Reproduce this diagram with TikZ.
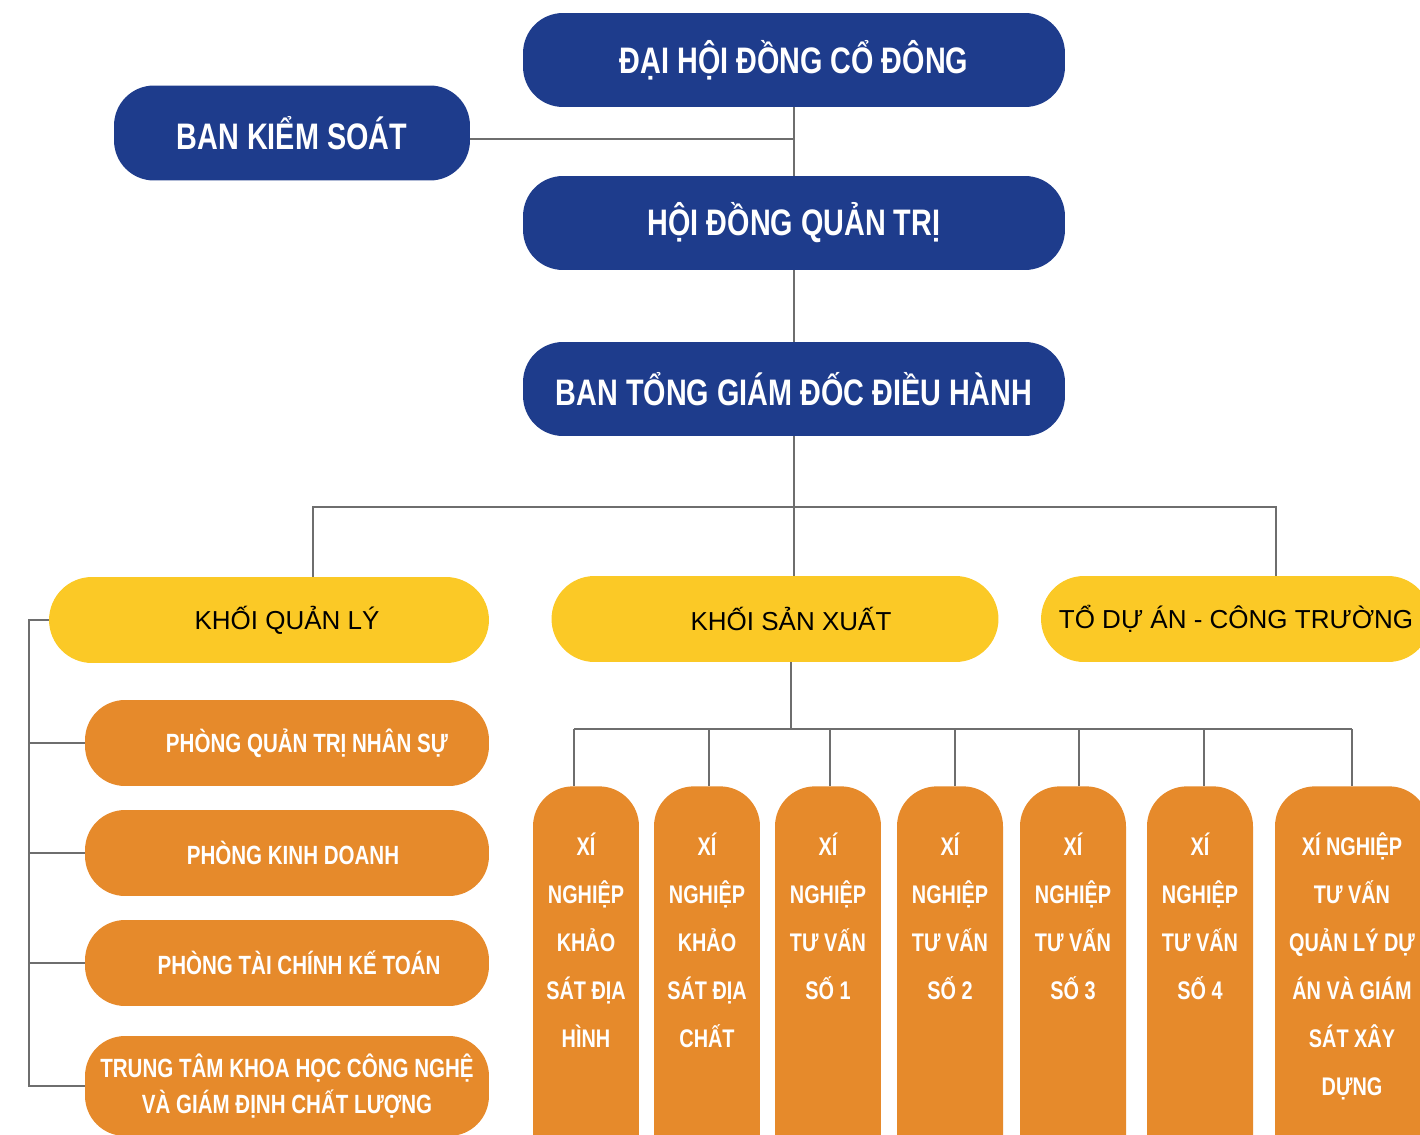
\documentclass[tikz,border=0pt]{standalone}
\usepackage{fontspec}
\setmainfont{Liberation Sans}
\newfontfamily\condfont{Liberation Sans}[FakeStretch=0.78]
\usetikzlibrary{positioning,backgrounds}
\definecolor{boardblue}{HTML}{1E3C8C}
\definecolor{unitorange}{HTML}{E68A2B}
\definecolor{blockyellow}{HTML}{FBC926}
\definecolor{linegray}{HTML}{6E6E6E}
\tikzstyle{board}=[fill=boardblue,text=white,rounded corners=0.8cm,minimum width=10.84cm,minimum height=1.88cm,font=\condfont\bfseries\fontsize{21}{25}\selectfont]
\tikzstyle{block}=[fill=blockyellow,text=black,rounded corners=0.86cm,minimum height=1.72cm,font=\fontsize{14.8}{18}\selectfont]
\tikzstyle{dept}=[fill=unitorange,text=white,rounded corners=0.8cm,minimum width=8.08cm,minimum height=1.72cm,font=\condfont\bfseries\fontsize{15}{21}\selectfont]
\tikzstyle{unit}=[fill=unitorange,text=white,rounded corners=0.8cm,anchor=north,inner sep=0pt,font=\condfont\bfseries\fontsize{14.5}{27.3}\selectfont]
\tikzstyle{link}=[draw=linegray,line width=1.1pt]
\newcommand{\unitlines}[2]{\parbox[t][8cm][t]{#1}{\centering\rule{0pt}{39.3pt}#2}}

\begin{document}
\begin{tikzpicture}[x=0.02cm,y=-0.02cm]
\useasboundingbox (0,0) rectangle (1420,1135);
\clip (0,0) rectangle (1420,1135);

\node[board] (dhdcd) at (794,60) {ĐẠI HỘI ĐỒNG CỔ ĐÔNG};
\node[board,minimum width=7.12cm,minimum height=1.9cm] (bks) at (292,133) {BAN KIỂM SOÁT};
\node[board] (hdqt) at (794,223) {HỘI ĐỒNG QUẢN TRỊ};
\node[board] (btgd) at (794,389) {BAN TỔNG GIÁM ĐỐC ĐIỀU HÀNH};

\node[block,minimum width=8.8cm] (kql) at (269,620) {\hspace*{0.72cm}KHỐI QUẢN LÝ};
\node[block,minimum width=8.94cm] (ksx) at (775,619) {\hspace*{0.64cm}KHỐI SẢN XUẤT};
\node[block,minimum width=7.8cm] (tda) at (1236,619) {TỔ DỰ ÁN - CÔNG TRƯỜNG};

\node[dept] (qtns) at (287,743) {\hspace*{0.8cm}PHÒNG QUẢN TRỊ NHÂN SỰ};
\node[dept] (kd) at (287,853) {\hspace*{0.24cm}PHÒNG KINH DOANH};
\node[dept] (tckt) at (287,963) {\hspace*{0.48cm}PHÒNG TÀI CHÍNH KẾ TOÁN};
\node[dept,align=center,minimum height=2cm] (ttkh) at (287,1086) {TRUNG TÂM KHOA HỌC CÔNG NGHỆ\\VÀ GIÁM ĐỊNH CHẤT LƯỢNG};

\node[unit] (xn1) at (586,786) {\unitlines{2.12cm}{XÍ\\NGHIỆP\\KHẢO\\SÁT ĐỊA\\HÌNH}};
\node[unit] (xn2) at (707,786) {\unitlines{2.12cm}{XÍ\\NGHIỆP\\KHẢO\\SÁT ĐỊA\\CHẤT}};
\node[unit] (xn3) at (828,786) {\unitlines{2.12cm}{XÍ\\NGHIỆP\\TƯ VẤN\\SỐ 1}};
\node[unit] (xn4) at (950,786) {\unitlines{2.12cm}{XÍ\\NGHIỆP\\TƯ VẤN\\SỐ 2}};
\node[unit] (xn5) at (1073,786) {\unitlines{2.12cm}{XÍ\\NGHIỆP\\TƯ VẤN\\SỐ 3}};
\node[unit] (xn6) at (1200,786) {\unitlines{2.12cm}{XÍ\\NGHIỆP\\TƯ VẤN\\SỐ 4}};
\node[unit] (xn7) at (1352,786) {\unitlines{3.08cm}{XÍ NGHIỆP\\TƯ VẤN\\QUẢN LÝ DỰ\\ÁN VÀ GIÁM\\SÁT XÂY\\DỰNG}};

\coordinate (j0) at (794,139);
\coordinate (j1) at (794,507);
\coordinate (jl) at (313,507);
\coordinate (jr) at (1276,507);
\coordinate (s0) at (29,620);
\coordinate (p0) at (791,729);
\coordinate (pl) at (574,729);
\coordinate (pr) at (1352,729);

\draw[link] (bks.east |- j0) -- (j0);
\draw[link] (dhdcd) -- (hdqt);
\draw[link] (hdqt) -- (btgd);
\draw[link] (btgd) -- (j1) -- (j1 |- ksx.north);
\draw[link] (jl |- kql.north) -- (jl) -- (jr) -- (jr |- tda.north);

\draw[link] (kql.west) -- (s0) -- (s0 |- ttkh.west) -- (ttkh.west);
\foreach \d in {qtns,kd,tckt}
  \draw[link] (s0 |- \d.west) -- (\d.west);

\draw[link] (ksx.south -| p0) -- (p0);
\draw[link] (pl) -- (pr);
\foreach \x/\u in {574/xn1,709/xn2,830/xn3,955/xn4,1079/xn5,1204/xn6,1352/xn7} {
  \coordinate (t) at (\x,729);
  \draw[link] (t) -- (t |- \u.north);
}
\end{tikzpicture}
\end{document}
